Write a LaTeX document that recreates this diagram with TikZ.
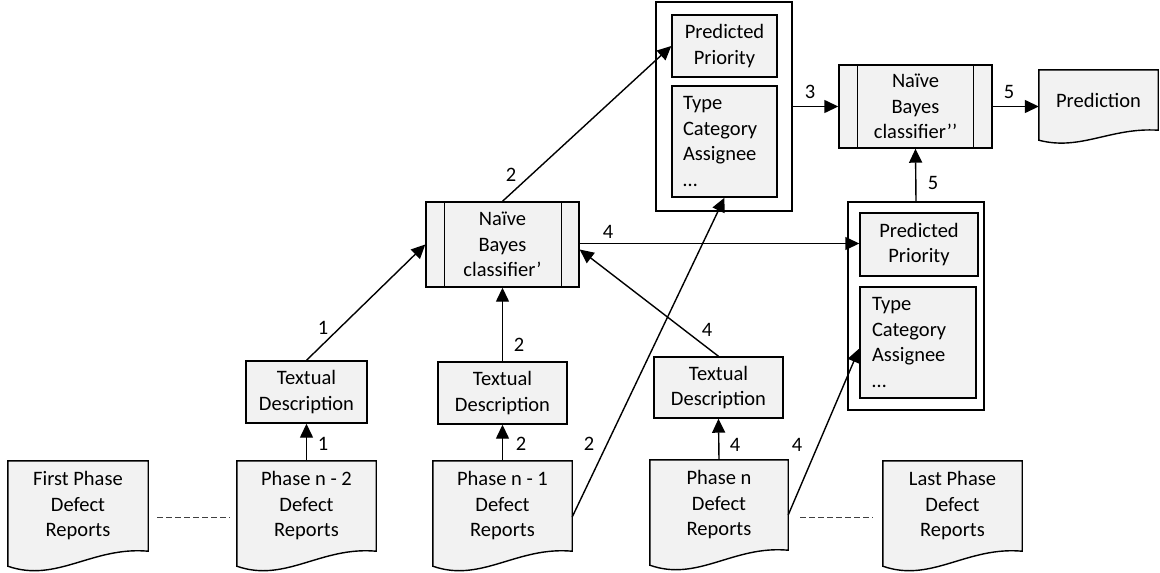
\documentclass[tikz,border=0pt]{standalone}
\usepackage{fontspec}
\setmainfont{Carlito}
\usetikzlibrary{arrows.meta,backgrounds,calc}
\definecolor{boxfill}{RGB}{242,242,242}
\begin{document}
\begin{tikzpicture}[x=1pt,y=-1pt,
  every node/.style={font=\fontsize{20.5}{25.5}\selectfont},
  docnode/.style={inner sep=0pt, align=center, minimum width=#1, minimum height=90},
  boxnode/.style={draw=black, fill=boxfill, line width=1.4, inner sep=0pt, align=center},
  contnode/.style={draw=black, fill=white, line width=1.4, inner sep=0pt},
  arr/.style={line width=1.4, -{Triangle[length=14,width=13]}},
  plain/.style={line width=1.4},
  lbl/.style={inner sep=0pt},
  dashln/.style={line width=0.9, draw=black!75, dash pattern=on 6 off 3}
]
\useasboundingbox (0,0) rectangle (1160,573);

% document nodes (outlines drawn on background)
\node[docnode=140] (fp) at (78,506) {First Phase\\Defect\\Reports};
\node[docnode=139] (pn2) at (306.5,506) {Phase n - 2\\Defect\\Reports};
\node[docnode=139] (pn1) at (502.5,506) {Phase n - 1\\Defect\\Reports};
\node[docnode=138] (pn) at (719,505) {Phase n\\Defect\\Reports};
\node[docnode=139] (lp) at (952.5,506) {Last Phase\\Defect\\Reports};
\node[inner sep=0pt, minimum width=119, minimum height=60] (pred) at (1098.5,100) {Prediction};

\begin{scope}[on background layer]
\foreach \n/\w/\a/\b/\d in {fp/140/5/32/15, pn2/139/5/32/15, pn1/139/5/32/15, pn/138/5/32/15, lp/139/5/32/15, pred/119/3/21/10}{
  \draw[fill=boxfill, line width=1.4, line join=miter]
    (\n.north west) -- (\n.north east) -- (\n.south east)
    .. controls ([xshift=-0.4*\w, yshift=\a]\n.south east) and ([xshift=0.35*\w, yshift=-\b]\n.south west)
    .. ([yshift=-\d]\n.south west) -- cycle;
}
\end{scope}

% textual description boxes
\node[boxnode, minimum width=121, minimum height=62] (td1) at (306.5,392) {Textual\\Description};
\node[boxnode, minimum width=129, minimum height=62] (td2) at (502.5,393) {Textual\\Description};
\node[boxnode, minimum width=129, minimum height=61] (td3) at (718.5,387.5) {Textual\\Description};

% classifiers
\node[boxnode, minimum width=153, minimum height=85] (nb1) at (502.5,244.5) {Naïve\\Bayes\\classifier’};
\draw[plain] ([xshift=19]nb1.north west) -- ([xshift=19]nb1.south west);
\draw[plain] ([xshift=-18]nb1.north east) -- ([xshift=-18]nb1.south east);
\node[boxnode, minimum width=153, minimum height=83] (nb2) at (915.5,106.5) {Naïve\\Bayes\\classifier’\kern0pt’};
\draw[plain] ([xshift=19]nb2.north west) -- ([xshift=19]nb2.south west);
\draw[plain] ([xshift=-19]nb2.north east) -- ([xshift=-19]nb2.south east);

% containers
\node[contnode, minimum width=136, minimum height=209] (c1) at (724,106.5) {};
\node[boxnode, minimum width=105, minimum height=62] (pp1) at (724.5,46) {Predicted\\Priority};
\node[boxnode, text width=83, inner xsep=11, minimum height=111, align=left] (t1) at (724.5,141.5) {Type\\Category\\Assignee\\…};

\node[contnode, minimum width=136, minimum height=208] (c2) at (916,306) {};
\node[boxnode, minimum width=118, minimum height=63] (pp2) at (919,244.5) {Predicted\\Priority};
\node[boxnode, text width=92, inner xsep=12, minimum height=111, align=left] (t2) at (918,342.5) {Type\\Category\\Assignee\\…};

% dashed continuations
\draw[dashln] ([xshift=9,yshift=-11]fp.east) -- ([xshift=-7,yshift=-11]pn2.west);
\draw[dashln] ([xshift=12,yshift=-12]pn.east) -- ([xshift=-10,yshift=-11]lp.west);

% connectors
\draw[arr] (pn2.north) -- (td1.south) node[lbl] at (323,444) {1};
\draw[arr] (pn1.north) -- (td2.south) node[lbl] at (521,444) {2};
\draw[arr] (pn.north) -- (td3.south) node[lbl] at (735,445) {4};
\draw[arr] (td1.north) -- (nb1.west) node[lbl] at (323,328) {1};
\draw[arr] (td2.north) -- (nb1.south) node[lbl] at (519,345) {2};
\draw[arr] (td3.north) -- ([yshift=-5]nb1.east) node[lbl] at (707,330) {4};
\draw[arr] ([yshift=-11]pn1.east) -- (t1.south) node[lbl] at (589,444) {2};
\draw[arr] ([yshift=-10]pn.east) -- ([yshift=-6]t2.west) node[lbl] at (797,445) {4};
\draw[arr] (nb1.north) -- (pp1.west) node[lbl] at (511,175) {2};
\draw[arr] ([yshift=1]nb1.east) -- ([yshift=1]pp2.west) node[lbl] at (608,232) {4};
\draw[arr] (c1.east) -- (nb2.west) node[lbl] at (810,92) {3};
\draw[arr] (nb2.east) -- (nb2.east -| pred.west) node[lbl] at (1009,92) {5};
\draw[arr] (c2.north) -- (nb2.south) node[lbl] at (933,183) {5};
\end{tikzpicture}
\end{document}
